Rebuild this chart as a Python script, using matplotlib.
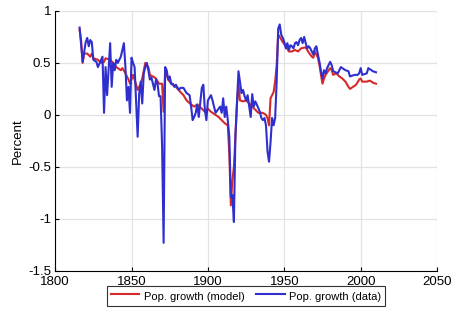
import matplotlib
matplotlib.use("Agg")
from matplotlib import pyplot as plt

# Population growth, model vs data (percent per year)
model_years = [1816, 1817, 1818, 1819, 1821, 1823, 1824, 1825, 1828, 1830, 1832, 1833,
               1836, 1838, 1840, 1843, 1844, 1846, 1848, 1849, 1851, 1852, 1854, 1856,
               1857, 1859, 1861, 1862, 1864, 1866, 1868, 1870, 1871, 1872, 1874, 1876,
               1877, 1879, 1882, 1884, 1886, 1889, 1891, 1893, 1896, 1898, 1900, 1902,
               1905, 1907, 1909, 1911, 1913, 1914, 1915, 1916, 1917, 1918, 1919, 1920,
               1921, 1923, 1925, 1927, 1929, 1931, 1933, 1936, 1938, 1939, 1940, 1941,
               1943, 1944, 1945, 1946, 1947, 1949, 1951, 1953, 1955, 1957, 1959, 1961,
               1964, 1966, 1968, 1969, 1970, 1972, 1973, 1974, 1975, 1976, 1977, 1980,
               1981, 1982, 1984, 1986, 1988, 1990, 1992, 1993, 1995, 1997, 1999, 2000,
               2001, 2004, 2006, 2008, 2010]
model_vals = [0.82, 0.72, 0.50, 0.59, 0.59, 0.56, 0.59, 0.545, 0.53, 0.50, 0.51, 0.545,
              0.53, 0.50, 0.46, 0.43, 0.45, 0.40, 0.34, 0.30, 0.385, 0.34, 0.24, 0.30,
              0.35, 0.50, 0.46, 0.385, 0.37, 0.35, 0.30, 0.30, 0.03, 0.43, 0.34, 0.30,
              0.29, 0.27, 0.22, 0.19, 0.14, 0.10, 0.08, 0.10, 0.06, 0.03, 0.06, 0.03,
              0.0, -0.02, -0.05, -0.08, -0.10, -0.37, -0.87, -0.63, -0.50, -0.21, 0.10, 0.30,
              0.14, 0.13, 0.14, 0.11, 0.08, 0.05, 0.02, 0.02, 0.0, -0.03, -0.10, 0.16,
              0.22, 0.32, 0.48, 0.77, 0.75, 0.70, 0.66, 0.61, 0.61, 0.625, 0.61, 0.64,
              0.65, 0.60, 0.56, 0.55, 0.61, 0.55, 0.48, 0.385, 0.30, 0.35, 0.385, 0.45,
              0.43, 0.385, 0.40, 0.37, 0.35, 0.32, 0.27, 0.25, 0.27, 0.29, 0.34, 0.35,
              0.32, 0.32, 0.33, 0.31, 0.30]

data_years = [1816, 1818, 1820, 1821, 1822, 1823, 1824, 1825, 1827, 1828, 1831, 1832,
              1833, 1834, 1836, 1837, 1838, 1839, 1840, 1841, 1843, 1845, 1846, 1847,
              1848, 1849, 1850, 1851, 1852, 1854, 1855, 1856, 1857, 1858, 1859, 1860,
              1861, 1862, 1863, 1864, 1865, 1866, 1867, 1868, 1869, 1870, 1871, 1872,
              1873, 1874, 1875, 1876, 1877, 1878, 1879, 1881, 1882, 1884, 1886, 1888,
              1889, 1890, 1891, 1892, 1893, 1894, 1896, 1897, 1898, 1899, 1900, 1902,
              1903, 1905, 1908, 1909, 1910, 1911, 1912, 1913, 1914, 1915, 1916, 1917,
              1918, 1920, 1922, 1923, 1924, 1925, 1926, 1928, 1929, 1930, 1931, 1932,
              1934, 1935, 1936, 1937, 1938, 1939, 1940, 1941, 1942, 1943, 1944, 1945,
              1946, 1947, 1948, 1949, 1950, 1951, 1952, 1953, 1954, 1955, 1956, 1957,
              1958, 1959, 1960, 1961, 1962, 1963, 1964, 1965, 1966, 1967, 1968, 1969,
              1970, 1971, 1972, 1973, 1974, 1975, 1976, 1977, 1978, 1980, 1981, 1982,
              1985, 1987, 1990, 1992, 1993, 1996, 1998, 1999, 2000, 2001, 2002, 2004,
              2005, 2006, 2007, 2008, 2010]
data_vals = [0.84, 0.51, 0.70, 0.74, 0.66, 0.72, 0.70, 0.53, 0.51, 0.46, 0.56, 0.02,
             0.46, 0.19, 0.69, 0.27, 0.50, 0.43, 0.53, 0.50, 0.56, 0.69, 0.46, 0.14,
             0.27, 0.02, 0.55, 0.50, 0.46, -0.21, 0.20, 0.32, 0.11, 0.40, 0.46, 0.50,
             0.43, 0.34, 0.36, 0.30, 0.24, 0.34, 0.30, 0.18, 0.18, -0.30, -1.23, 0.46,
             0.43, 0.34, 0.37, 0.30, 0.30, 0.27, 0.29, 0.24, 0.26, 0.26, 0.21, 0.19,
             0.08, -0.05, -0.02, 0.02, 0.10, -0.02, 0.26, 0.29, 0.05, -0.05, 0.14, 0.19,
             0.14, 0.02, 0.08, 0.02, 0.16, -0.02, 0.08, -0.05, -0.21, -0.79, -0.77, -1.03,
             -0.20, 0.42, 0.21, 0.24, 0.18, 0.14, 0.19, -0.02, 0.20, 0.08, 0.13, 0.10,
             0.03, -0.03, -0.05, -0.03, -0.10, -0.35, -0.45, -0.26, -0.03, -0.10, -0.03, 0.32,
             0.83, 0.87, 0.77, 0.74, 0.70, 0.64, 0.69, 0.625, 0.67, 0.66, 0.64, 0.69,
             0.70, 0.67, 0.72, 0.74, 0.69, 0.75, 0.69, 0.64, 0.66, 0.64, 0.61, 0.58,
             0.64, 0.66, 0.58, 0.51, 0.42, 0.35, 0.43, 0.40, 0.45, 0.51, 0.48, 0.42,
             0.40, 0.46, 0.43, 0.42, 0.37, 0.385, 0.385, 0.40, 0.45, 0.385, 0.39, 0.40,
             0.45, 0.44, 0.43, 0.42, 0.41]

x_ticks = [1800, 1850, 1900, 1950, 2000, 2050]
y_ticks = [-1.5, -1, -0.5, 0, 0.5, 1]
y_tick_labels = ["-1.5", "-1", "-0.5", "0", "0.5", "1"]

plt.rcParams["font.family"] = ["Liberation Sans", "DejaVu Sans"]

fig = plt.figure(figsize=(4.52, 3.21), dpi=100)
ax = fig.add_axes([0.122, 0.156, 0.845, 0.81])

ax.plot(model_years, model_vals, color="#d42a2a", lw=1.5, label="Pop. growth (model)")
ax.plot(data_years, data_vals, color="#2f2fcf", lw=1.5, label="Pop. growth (data)")

ax.set_xlim(1800, 2050)
ax.set_ylim(-1.5, 1)
ax.set_xticks(x_ticks)
ax.set_yticks(y_ticks)
ax.set_yticklabels(y_tick_labels)
ax.set_ylabel("Percent", fontsize=9.5, labelpad=3)
ax.grid(True, color="#e3e3e3", lw=0.9)
ax.set_axisbelow(True)
for side in ["top", "right"]:
    ax.spines[side].set_visible(False)
ax.spines["left"].set_linewidth(0.8)
ax.spines["bottom"].set_linewidth(0.8)
ax.tick_params(direction="in", length=3, width=0.8, labelsize=9.5)
ax.tick_params(axis="x", pad=4)
ax.tick_params(axis="y", pad=3)

leg = fig.legend(loc="center", bbox_to_anchor=(0.544, 0.078), ncol=2, fontsize=8,
                 frameon=True, fancybox=False, edgecolor="black", handlelength=2.6,
                 handletextpad=0.4, columnspacing=1.0, borderpad=0.3, handleheight=1.5)
leg.get_frame().set_linewidth(0.8)

fig.savefig("out.png", dpi=100)
